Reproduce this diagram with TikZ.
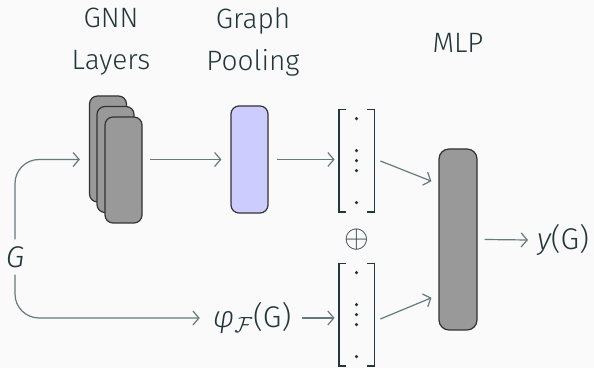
\documentclass[tikz,border=0pt]{standalone}
\usepackage{fontspec}
\setmainfont{Fira Sans}[UprightFont=* Light, ItalicFont=* Light Italic]
\usetikzlibrary{arrows.meta,calc}
\definecolor{bgc}{HTML}{FAFAFA}
\definecolor{fgc}{HTML}{23373B}
\definecolor{linec}{HTML}{667A7C}
\definecolor{boxgrey}{HTML}{999999}
\definecolor{boxedge}{HTML}{333333}
\definecolor{poolfill}{HTML}{CCCCFF}
\begin{document}
\begin{tikzpicture}[x=0.5pt,y=-0.5pt,
  every node/.style={text=fgc, font=\fontsize{14}{21}\selectfont},
  mathlabel/.style={font=\fontsize{15}{21}\selectfont},
  block/.style={draw=boxedge, line width=0.6pt, rounded corners=4pt,
    minimum width=18.5pt, inner sep=0pt},
  layerbox/.style={block, fill=boxgrey, minimum height=53pt},
  vecbox/.style={minimum width=17.5pt, minimum height=51pt, inner sep=0pt},
  bracket/.style={draw=fgc, line width=0.9pt},
  flow/.style={draw=linec, line width=0.6pt,
    -{Straight Barb[length=3pt,width=7pt]}},
  label/.style={align=center, anchor=base}]
  % canvas
  \useasboundingbox (0,0) rectangle (594,368);
  \fill[bgc] (0,0) rectangle (594,368);

  % column titles (anchored at the baseline of their last line)
  \node[label] (tgnn) at (111,70) {GNN\\Layers};
  \node[label] (tpool) at (253,71) {Graph\\Pooling};
  \node[label] (tmlp) at (458,53) {MLP};

  % stacked GNN layers
  \node[layerbox] (gnn1) at (108,149) {};
  \node[layerbox] (gnn2) at (115.5,159.5) {};
  \node[layerbox] (gnn3) at (123.5,170) {};

  % pooling block
  \node[block, fill=poolfill, minimum height=53.5pt] (pool) at (249.5,159.5) {};

  % readout MLP
  \node[block, fill=boxgrey, minimum width=19pt, minimum height=90.5pt,
    rounded corners=5pt] (mlp) at (458,239.5) {};

  % feature vectors
  \node[vecbox] (vec1) at (356.5,161) {};
  \node[vecbox] (vec2) at (356.5,315) {};
  \foreach \v in {vec1,vec2}{
    \draw[bracket] ([xshift=3.5pt]\v.north west) -- (\v.north west)
      -- (\v.south west) -- ([xshift=3.5pt]\v.south west);
    \draw[bracket] ([xshift=-3.5pt]\v.north east) -- (\v.north east)
      -- (\v.south east) -- ([xshift=-3.5pt]\v.south east);
    \foreach \d in {9,41,51,61,93}
      \fill[fgc] ($(\v.north)+(0,\d)$) circle[radius=0.85pt];
  }
  \node[scale=1.1] (oplus) at (357,240) {$\oplus$};

  % input graph and fingerprint
  \node[mathlabel] (g) at (15,257) {\itshape G};
  \node[mathlabel] (phi) at (252,318) {{\itshape φ}$_{\mathcal{F}}$(G)};
  \node[mathlabel] (out) at (563,240) {{\itshape y}(G)};

  % connectors
  \coordinate (gnnin) at ([xshift=-4.5pt]gnn1.west |- pool.west);
  \draw[flow, rounded corners=12pt] (g.north) -- (g.north |- gnnin) -- (gnnin);
  \draw[flow, rounded corners=12pt] (g.south) |- ([xshift=-3pt]phi.west);
  \draw[flow] ([xshift=3.5pt]gnn3.east |- pool.west) -- ([xshift=-4.5pt]pool.west);
  \draw[flow] ([xshift=4pt]pool.east) -- ([xshift=-2pt]vec1.west |- pool.east);
  \draw[flow] ([xshift=2pt]phi.east) -- ([xshift=-2pt]vec2.west |- phi.east);
  \draw[flow] ([xshift=3pt]vec1.east) -- ([xshift=-3.5pt]$(mlp.north west)!0.18!(mlp.south west)$);
  \draw[flow] ([shift={(3pt,-2pt)}]vec2.east) -- ([xshift=-3.5pt]$(mlp.north west)!0.82!(mlp.south west)$);
  \draw[flow] ([xshift=3.5pt]mlp.east) -- ([xshift=-1pt]out.west);
\end{tikzpicture}
\end{document}
